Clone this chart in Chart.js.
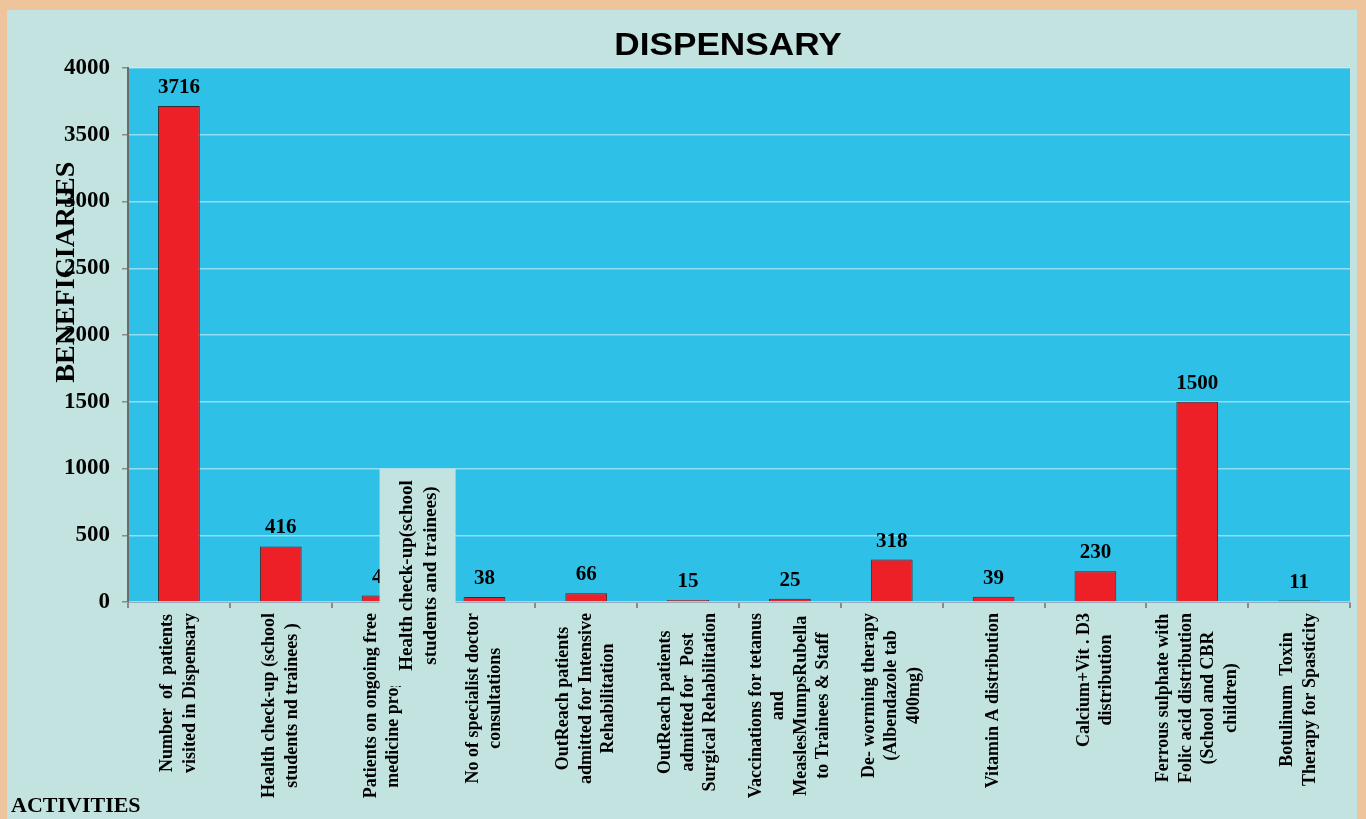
<!DOCTYPE html>
<html>
<head>
<meta charset="utf-8">
<script src="https://cdn.jsdelivr.net/npm/chart.js@4"></script>
<style>
  body { margin: 0; background: #EDC49C; }
  #panel { position: absolute; left: 7px; top: 10px; width: 1350px; height: 809px; background: #C2E3E0; }
</style>
</head>
<body>
<div id="panel"><canvas id="myChart" width="1350" height="809"></canvas></div>
<script>
// chart data
const activities = [
    ['Number  of  patients', 'visited in Dispensary'],
    ['Health check-up (school', 'students nd trainees )'],
    ['Patients on ongoing free', 'medicine programme'],
    ['No of specialist doctor', 'consultations'],
    ['OutReach patients', 'admitted for Intensive', 'Rehabilitation'],
    ['OutReach patients', 'admitted for  Post', 'Surgical Rehabilitation'],
    ['Vaccinations for tetanus', 'and', 'MeaslesMumpsRubella', 'to Trainees & Staff'],
    ['De- worming therapy', '(Albendazole tab', '400mg)'],
    ['Vitamin A distribution'],
    ['Calcium+Vit . D3', 'distribution'],
    ['Ferrous sulphate with', 'Folic acid distribution', '(School and CBR', 'children)'],
    ['Botulinum  Toxin', 'Therapy for Spasticity']
];
const beneficiaries = [3716, 416, 48, 38, 66, 15, 25, 318, 39, 230, 1500, 11];
const yTicks = [0, 500, 1000, 1500, 2000, 2500, 3000, 3500, 4000];
const noteLines = ['Health check-up(school', 'students and trainees)'];

const serif = "'Liberation Serif', 'Times New Roman', serif";

// plot background, labels and the overlaid note box
const decor = {
    id: 'decor',
    beforeDraw(chart) {
        const {ctx, chartArea} = chart;
        ctx.save();
        ctx.fillStyle = '#2EC0E7';
        ctx.fillRect(chartArea.left, chartArea.top, chartArea.right - chartArea.left, chartArea.bottom - chartArea.top);
        ctx.restore();
    },
    afterDraw(chart) {
        const {ctx, chartArea, scales} = chart;
        const x = scales.x, y = scales.y;
        ctx.save();
        ctx.fillStyle = '#000';

        // title (slightly stretched like the original)
        ctx.save();
        ctx.font = "bold 32px 'Liberation Sans', Arial, sans-serif";
        ctx.textAlign = 'center';
        ctx.textBaseline = 'middle';
        ctx.translate((chartArea.left + chartArea.right) / 2 - 11, 36);
        ctx.scale(1.1, 1);
        ctx.fillText('DISPENSARY', 0, 0);
        ctx.restore();

        // values above bars
        ctx.font = 'bold 21px ' + serif;
        ctx.textAlign = 'center';
        ctx.textBaseline = 'alphabetic';
        chart.getDatasetMeta(0).data.forEach((bar, i) => {
            ctx.fillText(String(beneficiaries[i]), bar.x, bar.y - 13);
        });

        // category labels, rotated, centred lines
        ctx.font = 'bold 18px ' + serif;
        const lh = 22.5;
        activities.forEach((lines, i) => {
            const cx = x.getPixelForValue(i);
            let w = 0;
            lines.forEach(l => { w = Math.max(w, ctx.measureText(l).width); });
            const cy = chartArea.bottom + 11 + w / 2;
            ctx.save();
            ctx.translate(cx, cy);
            ctx.rotate(-Math.PI / 2);
            ctx.textAlign = 'center';
            ctx.textBaseline = 'middle';
            lines.forEach((l, k) => {
                ctx.fillText(l, 0, (k - (lines.length - 1) / 2) * lh);
            });
            ctx.restore();
        });

        // note box that sits over the third category
        const bx = x.getPixelForValue(2) - 3;
        const by = y.getPixelForValue(1000);
        const bw = 76;
        const bh = chartArea.bottom + 84 - by;
        ctx.fillStyle = '#C2E3E0';
        ctx.fillRect(bx, by, bw, bh);
        ctx.fillStyle = '#000';
        ctx.save();
        ctx.translate(bx + bw / 2 + 2, by + 107);
        ctx.rotate(-Math.PI / 2);
        ctx.textAlign = 'center';
        ctx.textBaseline = 'middle';
        ctx.font = 'bold 19px ' + serif;
        noteLines.forEach((l, k) => {
            ctx.fillText(l, 0, (k - 0.5) * 24);
        });
        ctx.restore();

        // axis titles
        ctx.font = 'bold 28px ' + serif;
        ctx.save();
        ctx.translate(chartArea.left - 61, y.getPixelForValue(2500) + 4);
        ctx.rotate(-Math.PI / 2);
        ctx.textAlign = 'center';
        ctx.textBaseline = 'middle';
        ctx.fillText('BENEFICIARIES', 0, 0);
        ctx.restore();

        ctx.font = 'bold 22px ' + serif;
        ctx.textAlign = 'left';
        ctx.textBaseline = 'alphabetic';
        ctx.fillText('ACTIVITIES', 4, 802);
        ctx.restore();
    }
};

let myChart = document.getElementById('myChart').getContext('2d');

let dispensary = new Chart(myChart, {
    type: 'bar',
    data: {
        labels: activities,
        datasets: [{
            label: 'Beneficiaries',
            data: beneficiaries,
            backgroundColor: '#EE2027',
            borderColor: '#3a2a2a',
            borderWidth: 1,
            barPercentage: 0.41,
            categoryPercentage: 1
        }]
    },
    options: {
        responsive: false,
        animation: false,
        layout: {
            padding: {top: 58, right: 7, left: 0, bottom: 0}
        },
        plugins: {
            legend: {display: false},
            tooltip: {enabled: false}
        },
        scales: {
            x: {
                ticks: {display: false},
                grid: {
                    offset: true,
                    drawOnChartArea: false,
                    color: '#8a8a8a',
                    lineWidth: 2,
                    tickLength: 6
                },
                border: {color: '#9ab', width: 1},
                afterFit(scale) { scale.height = 217; }
            },
            y: {
                min: 0,
                max: 4000,
                afterBuildTicks(scale) { scale.ticks = yTicks.map(v => ({value: v})); },
                ticks: {
                    color: '#000',
                    padding: 12,
                    font: {family: serif, size: 23, weight: 'bold'},
                    callback: v => String(v)
                },
                grid: {
                    color: 'rgba(200,240,250,0.65)',
                    lineWidth: 1.5,
                    tickColor: '#8a8a8a',
                    tickLength: 6
                },
                border: {color: '#6b6b6b', width: 2},
                afterFit(scale) { scale.width = 121; }
            }
        }
    },
    plugins: [decor]
});
</script>
</body>
</html>
